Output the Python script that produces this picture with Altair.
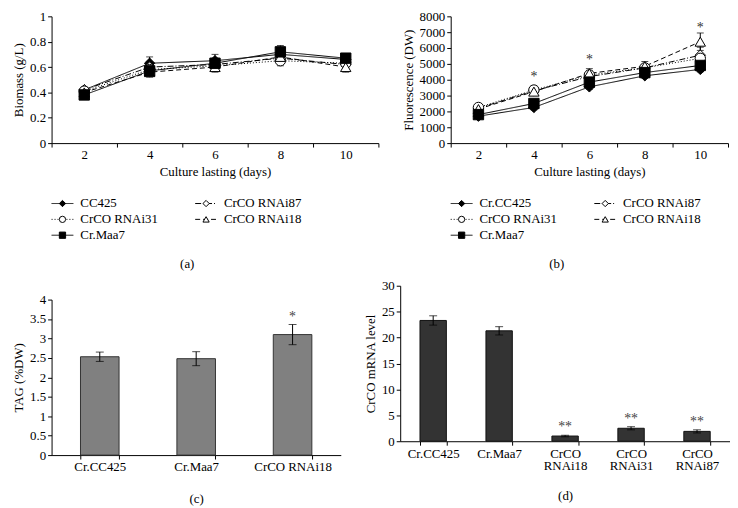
import altair as alt
import pandas as pd

FONT = "Liberation Serif"
FS = 13

days = [2, 4, 6, 8, 10]
names_a = ["CC425", "CrCO RNAi87", "CrCO RNAi31", "CrCO RNAi18", "Cr.Maa7"]
names_b = ["Cr.CC425", "CrCO RNAi87", "CrCO RNAi31", "CrCO RNAi18", "Cr.Maa7"]

# (a) Biomass (g/L)
bio_cc425 = [0.42, 0.63, 0.65, 0.70, 0.66]
bio_cc425_err = [0.02, 0.05, 0.05, 0.04, 0.03]
bio_rnai87 = [0.42, 0.60, 0.62, 0.67, 0.62]
bio_rnai87_err = [0.02, 0.04, 0.03, 0.04, 0.03]
bio_rnai31 = [0.41, 0.58, 0.61, 0.65, 0.63]
bio_rnai31_err = [0.02, 0.04, 0.04, 0.04, 0.03]
bio_rnai18 = [0.40, 0.56, 0.60, 0.68, 0.60]
bio_rnai18_err = [0.02, 0.04, 0.04, 0.03, 0.04]
bio_maa7 = [0.38, 0.57, 0.63, 0.72, 0.67]
bio_maa7_err = [0.03, 0.04, 0.04, 0.05, 0.03]

# (b) Fluorescence (DW)
flu_cc425 = [1700, 2250, 3550, 4250, 4650]
flu_cc425_err = [150, 150, 150, 150, 150]
flu_rnai87 = [2200, 3300, 4200, 4750, 5550]
flu_rnai87_err = [150, 250, 250, 200, 500]
flu_rnai31 = [2250, 3350, 4300, 4750, 5350]
flu_rnai31_err = [150, 250, 250, 200, 250]
flu_rnai18 = [2150, 3250, 4400, 4850, 6400]
flu_rnai18_err = [150, 250, 300, 300, 550]
flu_maa7 = [1800, 2500, 3850, 4450, 4900]
flu_maa7_err = [150, 200, 150, 150, 200]
flu_star_days = [4, 6, 10]
flu_star_y = [4150, 5250, 7250]

# (c) TAG (%DW)
tag_names = ["Cr.CC425", "Cr.Maa7", "CrCO RNAi18"]
tag_vals = [2.53, 2.48, 3.10]
tag_err = [0.12, 0.18, 0.26]
tag_sig = ["", "", "*"]

# (d) CrCO mRNA level
mrna_names = ["Cr.CC425", "Cr.Maa7", "CrCO RNAi18", "CrCO RNAi31", "CrCO RNAi87"]
mrna_vals = [23.3, 21.3, 1.0, 2.5, 1.9]
mrna_err = [0.9, 0.8, 0.15, 0.3, 0.3]
mrna_sig = ["", "", "**", "**", "**"]

dashes = [[1, 0], [6, 2, 1, 2], [1, 2], [5, 3], [1, 0]]
shapes = ["diamond", "diamond", "circle", "triangle-up", "square"]
fills = ["black", "white", "white", "white", "black"]


def long_df(names, vals, errs):
    rows = []
    for n, v, e in zip(names, vals, errs):
        for d, vv, ee in zip(days, v, e):
            rows.append({"s": n, "day": d, "v": vv, "lo": vv - ee, "hi": vv + ee})
    return pd.DataFrame(rows)


def line_panel(df, names, ymax, yvals, yfmt, ytitle, w, h, star_df=None):
    xscale = alt.Scale(type="band", paddingInner=0, paddingOuter=0, domain=days)
    xaxis = alt.Axis(title="Culture lasting (days)", labelAngle=0, tickBand="extent", titlePadding=4)
    yscale = alt.Scale(domain=[0, ymax], nice=False, zero=True)
    yaxis = alt.Axis(values=yvals, format=yfmt, title=ytitle)

    def X():
        return alt.X("day:O", scale=xscale, axis=xaxis, bandPosition=0.5)

    def Y(f):
        return alt.Y(f + ":Q", scale=yscale, axis=yaxis)

    dash = alt.StrokeDash("s:N", scale=alt.Scale(domain=names, range=dashes), legend=None)
    shp = alt.Shape("s:N", scale=alt.Scale(domain=names, range=shapes), legend=None)
    fil = alt.Fill("s:N", scale=alt.Scale(domain=names, range=fills), legend=None)
    base = alt.Chart(df)
    lines = base.mark_line(color="black", strokeWidth=1).encode(x=X(), y=Y("v"), strokeDash=dash, detail="s:N")
    err = base.mark_rule(color="black", strokeWidth=1).encode(x=X(), y=Y("lo"), y2="hi:Q")
    lo = base.mark_tick(color="black", thickness=1, size=7).encode(x=X(), y=Y("lo"))
    hi = base.mark_tick(color="black", thickness=1, size=7).encode(x=X(), y=Y("hi"))
    pts = base.mark_point(filled=True, size=110, stroke="black", strokeWidth=1, opacity=1).encode(
        x=X(), y=Y("v"), shape=shp, fill=fil)
    layers = [lines, err, lo, hi, pts]
    if star_df is not None:
        stars = alt.Chart(star_df).mark_text(text="*", font=FONT, fontSize=14, color="#333").encode(x=X(), y=Y("v"))
        layers.append(stars)
    return alt.layer(*layers).properties(width=w, height=h)


def legend_chart(names, w, label):
    ldf = pd.DataFrame({"s": names,
                        "col": [i % 2 for i in range(len(names))],
                        "row": [i // 2 for i in range(len(names))]})
    lx = alt.X("col:Q", scale=alt.Scale(domain=[0, 1], range=[0, 145]), axis=None)
    ly = alt.Y("row:Q", scale=alt.Scale(domain=[0, 2], range=[0, 32]), axis=None)
    dash = alt.StrokeDash("s:N", scale=alt.Scale(domain=names, range=dashes), legend=None)
    shp = alt.Shape("s:N", scale=alt.Scale(domain=names, range=shapes), legend=None)
    fil = alt.Fill("s:N", scale=alt.Scale(domain=names, range=fills), legend=None)
    base = alt.Chart(ldf)
    seg = base.mark_rule(color="black", strokeWidth=1, x2Offset=22).encode(x=lx, x2="col:Q", y=ly, strokeDash=dash)
    pts = base.mark_point(filled=True, size=40, stroke="black", strokeWidth=1, opacity=1, xOffset=11).encode(
        x=lx, y=ly, shape=shp, fill=fil)
    txt = base.mark_text(align="left", dx=29, baseline="middle", font=FONT, fontSize=FS, color="black").encode(
        x=lx, y=ly, text="s:N")
    return alt.layer(seg, pts, txt).properties(
        width=w, height=32, title=alt.TitleParams(label, orient="bottom", offset=16))


def bar_panel(names, vals, errs, sig, ymax, yvals, ytitle, w, h, fill, stroke, label,
              multiline=False, top_gap=0, title_pad=14):
    df = pd.DataFrame({"n": names, "v": vals,
                       "lo": [v - e for v, e in zip(vals, errs)],
                       "hi": [v + e for v, e in zip(vals, errs)],
                       "sig": sig})
    xscale = alt.Scale(type="band", paddingInner=0.6, paddingOuter=0.3, domain=names)
    ax = dict(title=label, labelAngle=0, tickBand="extent", titlePadding=title_pad)
    if multiline:
        ax["labelExpr"] = "indexof(datum.label, 'RNAi') > 0 ? split(datum.label, ' ') : datum.label"
        ax["labelLineHeight"] = 13
    xaxis = alt.Axis(**ax)
    yscale = alt.Scale(domain=[0, ymax], nice=False, range=[h + top_gap, top_gap])
    yaxis = alt.Axis(values=yvals, format="~g", title=ytitle)

    def X():
        return alt.X("n:N", scale=xscale, axis=xaxis, sort=names)

    def Y(f):
        return alt.Y(f + ":Q", scale=yscale, axis=yaxis)

    base = alt.Chart(df)
    bars = base.mark_bar(color=fill, stroke=stroke, strokeWidth=1).encode(x=X(), y=Y("v"))
    err = base.mark_rule(color="black", strokeWidth=1).encode(x=X(), y=Y("lo"), y2="hi:Q")
    lo = base.mark_tick(color="black", thickness=1, size=8).encode(x=X(), y=Y("lo"))
    hi = base.mark_tick(color="black", thickness=1, size=8).encode(x=X(), y=Y("hi"))
    st = base.mark_text(font=FONT, fontSize=14, color="#444", baseline="bottom", dy=-1).encode(
        x=X(), y=Y("hi"), text="sig:N")
    return alt.layer(bars, err, lo, hi, st).properties(width=w, height=h + top_gap)


df_a = long_df(names_a,
               [bio_cc425, bio_rnai87, bio_rnai31, bio_rnai18, bio_maa7],
               [bio_cc425_err, bio_rnai87_err, bio_rnai31_err, bio_rnai18_err, bio_maa7_err])
df_b = long_df(names_b,
               [flu_cc425, flu_rnai87, flu_rnai31, flu_rnai18, flu_maa7],
               [flu_cc425_err, flu_rnai87_err, flu_rnai31_err, flu_rnai18_err, flu_maa7_err])
star_b = pd.DataFrame({"day": flu_star_days, "v": flu_star_y})

chart_a = line_panel(df_a, names_a, 1, [0, 0.2, 0.4, 0.6, 0.8, 1], "~g", "Biomass (g/L)", 330, 128)
chart_b = line_panel(df_b, names_b, 8000, list(range(0, 8001, 1000)), "d", "Fluorescence (DW)", 280, 128, star_b)
leg_a = legend_chart(names_a, 274, "(a)")
leg_b = legend_chart(names_b, 214, "(b)")

chart_c = bar_panel(tag_names, tag_vals, tag_err, tag_sig, 4, [0, 0.5, 1, 1.5, 2, 2.5, 3, 3.5, 4],
                    "TAG (%DW)", 292, 157, "#808080", "#333333", "(c)", top_gap=14, title_pad=19)
chart_d = bar_panel(mrna_names, mrna_vals, mrna_err, mrna_sig, 30, [0, 5, 10, 15, 20, 25, 30],
                    "CrCO mRNA level", 333, 157, "#333333", "#111111", "(d)", multiline=True,
                    title_pad=17)

row1 = alt.hconcat(alt.vconcat(chart_a, leg_a, spacing=19),
                   alt.vconcat(chart_b, leg_b, spacing=19), spacing=23)
row2 = alt.hconcat(chart_c, chart_d, spacing=24)

chart = alt.vconcat(row1, row2, spacing=9).properties(
    padding={"left": 4, "top": 0, "right": 0, "bottom": 0}
).configure_view(stroke=None).configure_axis(
    labelFont=FONT, titleFont=FONT, labelFontSize=FS, titleFontSize=FS,
    titleFontWeight="normal", labelColor="black", titleColor="black",
    domainColor="black", tickColor="black", grid=False, tickSize=4, labelPadding=2
).configure_title(font=FONT, fontSize=FS, fontWeight="normal", color="black")

chart.save("out.html", embed_options={"renderer": "svg", "actions": False})
